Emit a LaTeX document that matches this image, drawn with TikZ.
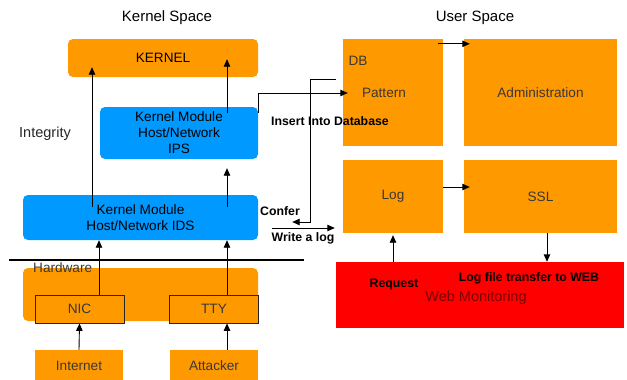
\documentclass[tikz,border=0pt]{standalone}
\usepackage{fontspec}
\setmainfont{Liberation Sans}
\usetikzlibrary{arrows.meta}
\definecolor{boxorange}{HTML}{FF9900}
\definecolor{moduleblue}{HTML}{0099FF}
\definecolor{webred}{HTML}{FF0000}
\definecolor{webtext}{HTML}{7A0000}
\begin{document}
\begin{tikzpicture}[x=1pt,y=-1pt,
        box/.style={fill=boxorange,inner sep=0pt,text=black!78,font=\fontsize{13.6}{16}\selectfont},
        rbox/.style={box,rounded corners=5pt},
        module/.style={fill=moduleblue,rounded corners=5pt,inner sep=0pt,align=center,font=\fontsize{13.6}{16}\selectfont},
        tag/.style={font=\bfseries\fontsize{12.3}{14}\selectfont},
        link/.style={draw,line width=0.9pt,-{Triangle[length=7.5pt,width=6.5pt]}}]
        \useasboundingbox (0,0) rectangle (627,380);
        \node[font=\fontsize{15}{16}\selectfont] (kspace) at (167,18) {Kernel Space};
        \node[font=\fontsize{15}{16}\selectfont] (uspace) at (475,18) {User Space};
        \node[font=\fontsize{14.5}{16}\selectfont,text=black!85] (integrity) at (45,134) {Integrity};
        % kernel side
        \node[rbox,text=black,minimum width=190pt,minimum height=38pt] (kernel) at (163,58) {KERNEL};
        \node[module,minimum width=158pt,minimum height=52pt] (ips) at (179,133) {Kernel Module\\Host/Network\\IPS};
        \node[module,minimum width=235pt,minimum height=45pt] (ids) at (140.5,217.5) {Kernel Module\\Host/Network IDS};
        \node[rbox,minimum width=235pt,minimum height=53pt] (hw) at (140.5,294.5) {};
        \node[anchor=west,inner sep=0pt,text=black!78,font=\fontsize{13.6}{16}\selectfont] (hwlabel) at (33,268) {Hardware};
        \begin{scope}[every node/.style={box,draw=black!85,line width=0.8pt,minimum width=89pt,minimum height=28pt}]
            \node (nic) at (79.5,309) {NIC};
            \node (tty) at (214,309) {TTY};
        \end{scope}
        \begin{scope}[every node/.style={box,minimum width=88pt,minimum height=32pt}]
            \node (internet) at (79,366) {Internet};
            \node (attacker) at (214,366) {Attacker};
        \end{scope}
        \draw[line width=2.5pt] (9,260) -- (304,260);
        % user side
        \begin{scope}[every node/.style={box}]
            \node[minimum width=100pt,minimum height=107pt] (db) at (393,92.5) {};
            \node[minimum width=153pt,minimum height=107pt] (admin) at (540.5,92.5) {Administration};
            \node[minimum width=100pt,minimum height=73pt] (log) at (393,196.5) {Log};
            \node[minimum width=153pt,minimum height=73pt] (ssl) at (540.5,196.5) {SSL};
        \end{scope}
        \node[text=black!78,font=\fontsize{13.6}{16}\selectfont,inner sep=0pt] (dblabel) at (358,61) {DB};
        \node[text=black!78,font=\fontsize{13.6}{16}\selectfont,inner sep=0pt] (pattern) at (384,93) {Pattern};
        \node[fill=webred,minimum width=288pt,minimum height=66pt,inner sep=0pt] (web) at (480,295) {};
        \node[text=webtext,font=\fontsize{14.5}{16}\selectfont,inner sep=0pt] (webtitle) at (476,298) {Web Monitoring};
        % columns the vertical arrows run in
        \coordinate (colk) at (92,0);
        \coordinate (colnic) at (99,0);
        \coordinate (colr) at (227,0);
        \begin{scope}[every path/.style={link}]
            \path (internet.north) -- (nic.south);
            \path (attacker.north -| colr) -- (tty.south -| colr);
            \path (nic.north -| colnic) -- (ids.south -| colnic);
            \path (tty.north -| colr) -- (ids.south -| colr);
            \path ([yshift=-12pt]ids.north -| colr) -- ([yshift=-9pt]ips.south -| colr);
            \path ([yshift=-6pt]ips.north -| colr) -- ([yshift=18pt]kernel.south -| colr);
            \path ([yshift=-12pt]ids.north -| colk) -- ([yshift=10pt]kernel.south -| colk);
            \path ([yshift=-6pt]ips.north east) |- ([xshift=5pt]db.west |- pattern);
            \path ([xshift=-7pt,yshift=13.5pt]db.west) -- ++(-25,0) |- ([xshift=34pt,yshift=-4.5pt]ids.east);
            \path ([xshift=14pt,yshift=-10.5pt]ids.east) -- ([xshift=-8pt,yshift=-10.5pt]ids.east -| log.west);
            \path ([xshift=-5pt,yshift=-5pt]db.north east) -- ([xshift=6pt,yshift=-5pt]admin.north west);
            \path ([yshift=9.5pt]log.east) -- ([xshift=6pt,yshift=9.5pt]ssl.west);
            \path (web.north -| log) -- ([yshift=-2pt]log.south);
            \path ([xshift=6.5pt]ssl.south) -- ([xshift=6.5pt]ssl.south |- web.north);
        \end{scope}
        % connector labels
        \node[tag] (insert) at (330,121) {Insert Into Database};
        \node[tag] (confer) at (280,211) {Confer};
        \node[tag] (writelog) at (303,238) {Write a log};
        \node[tag] (request) at (394,285) {Request};
        \node[tag] (transfer) at (529,278) {Log file transfer to WEB};
\end{tikzpicture}
\end{document}
